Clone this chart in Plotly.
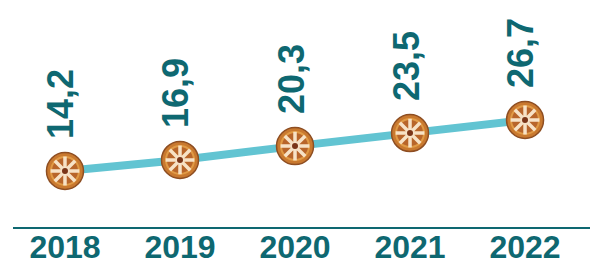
import plotly.graph_objects as go

years = ["2018", "2019", "2020", "2021", "2022"]
values = [14.2, 16.9, 20.3, 23.5, 26.7]
labels = ["14,2", "16,9", "20,3", "23,5", "26,7"]

x = list(range(len(years)))
TEAL = "#0E6871"
FONT = "Liberation Sans"

fig = go.Figure()
fig.add_trace(go.Scatter(x=x, y=values, mode="lines",
                         line=dict(color="#62C4D2", width=8), hoverinfo="skip"))
fig.add_trace(go.Scatter(x=x, y=values, mode="markers",
                         marker=dict(symbol="circle", size=37, color="#C9792F",
                                     line=dict(color="#8E4E22", width=1.5)),
                         hoverinfo="skip"))
fig.add_trace(go.Scatter(x=x, y=values, mode="markers",
                         marker=dict(symbol="circle", size=28, color="#B8652A",
                                     line=dict(color="#E09A45", width=2)),
                         hoverinfo="skip"))
fig.add_trace(go.Scatter(x=x, y=values, mode="markers",
                         marker=dict(symbol="asterisk-open", size=24, color="#F7E2C6",
                                     line=dict(color="#F7E2C6", width=3.5)),
                         hoverinfo="skip"))
fig.add_trace(go.Scatter(x=x, y=values, mode="markers",
                         marker=dict(symbol="circle", size=6, color="#7A3518"),
                         hoverinfo="skip"))

for xi, v, t in zip(x, values, labels):
    fig.add_annotation(x=xi, y=v, text="<b>%s</b>" % t, textangle=-90,
                       showarrow=False, xanchor="center", yanchor="bottom",
                       yshift=30, xshift=-4,
                       font=dict(family=FONT, size=36, color=TEAL))

fig.update_layout(
    width=598, height=264,
    margin=dict(l=5, r=13, t=0, b=45, autoexpand=False),
    paper_bgcolor="white", plot_bgcolor="white",
    showlegend=False,
    xaxis=dict(range=[-0.452, 4.591], tickvals=x, ticktext=["<b>%s</b>" % y for y in years],
               showgrid=False, zeroline=False, showline=True, linecolor=TEAL,
               linewidth=2, ticks="", ticklabelstandoff=-9, automargin=False,
               tickfont=dict(family=FONT, size=32, color=TEAL)),
    yaxis=dict(range=[0.47, 54.15], visible=False, showgrid=False, zeroline=False,
               automargin=False),
)

fig.write_html("out.html")
